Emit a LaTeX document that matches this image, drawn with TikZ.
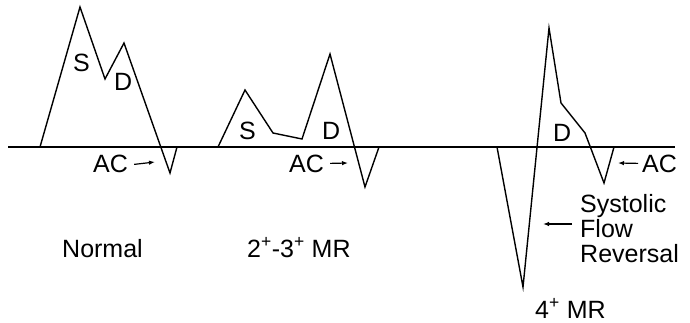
\documentclass[tikz,border=0pt]{standalone}
\usepackage{fontspec}
\setmainfont{Liberation Sans}
\usepackage{tikz}
\usetikzlibrary{arrows.meta}

\begin{document}
\begin{tikzpicture}[x=1pt,y=-1pt,>={Latex[length=6pt,width=4.5pt]},
 lbl/.style={anchor=base west,inner sep=0pt,font=\fontsize{25}{25}\selectfont},
 wave/.style={line width=1.4pt,line join=miter},
 a/.style={->,line width=1.2pt}]
 \useasboundingbox (0,0) rectangle (690,323);
 % zero line
 \draw[line width=1.3pt] (8,147) -- (675,147);
 % the three flow profiles
 \draw[wave] (40,147) -- (80,7) -- (105,79) -- (124,43) -- (170,173) -- (177,147);
 \draw[wave] (218,147) -- (245,90) -- (273,133) -- (302,139) -- (330,54) -- (365,187) -- (379,147);
 \draw[wave] (497,147) -- (523,287) -- (549,28) -- (561,103) -- (585,133) -- (604,183) -- (614,147);
 % peak labels
 \node[lbl] (sN) at (73,72) {S};
 \node[lbl] (dN) at (114,91) {D};
 \node[lbl] (sM) at (239,140) {S};
 \node[lbl] (dM) at (322,140) {D};
 \node[lbl] (dS) at (553,142) {D};
 % atrial contraction
 \node[lbl] (acN) at (93,173) {AC};
 \node[lbl] (acM) at (289,172) {AC};
 \node[lbl] (acS) at (642,172) {AC};
 \coordinate (tipN) at (155,162);
 \coordinate (tipM) at (348,163);
 \coordinate (tipS) at (618,163);
 \draw[a] ([xshift=6]acN.east) -- (tipN);
 \draw[a] ([xshift=6]acM.east) -- (tipM);
 \draw[a] ([xshift=-4]acS.west) -- (tipS);
 % reversal
 \node[lbl,align=left] (rev) at (580,262) {Systolic\\Flow\\Reversal};
 \coordinate (tipR) at (543,224);
 \draw[a] (572,224) -- (tipR);
 % grades
 \node[lbl] (norm) at (62,257) {Normal};
 \node[lbl] (mod) at (247,257) {2\textsuperscript{+}-3\textsuperscript{+} MR};
 \node[lbl] (sev) at (535,318) {4\textsuperscript{+} MR};
\end{tikzpicture}
\end{document}
